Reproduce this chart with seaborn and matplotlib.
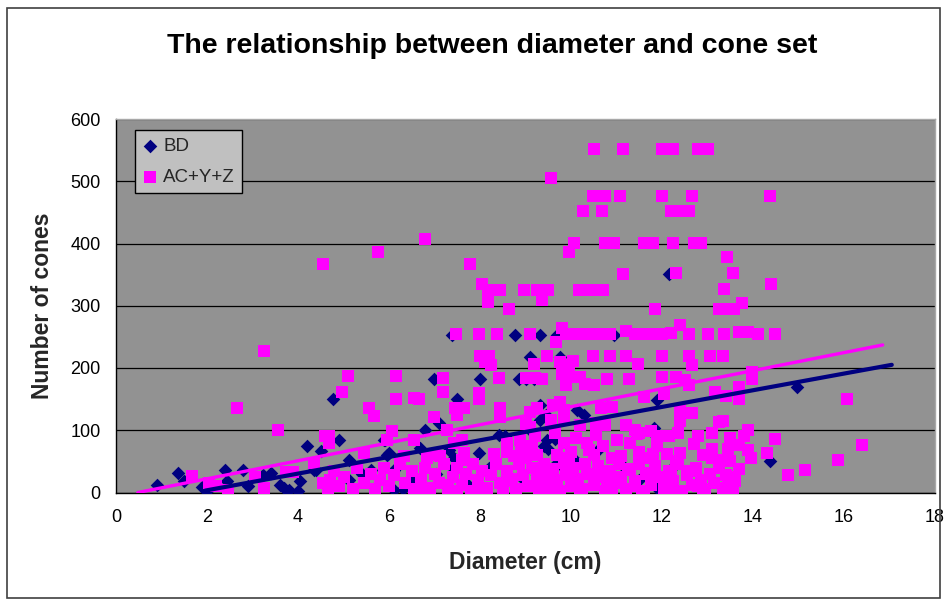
import matplotlib
matplotlib.use("Agg")
import matplotlib.pyplot as plt
import seaborn as sns
import pandas as pd
import numpy as np
from matplotlib.patches import Rectangle

# ---------------- data ----------------
title = "The relationship between diameter and cone set"
x_label = "Diameter (cm)"
y_label = "Number of cones"
series_names = ["BD", "AC+Y+Z"]
x_ticks = [0, 2, 4, 6, 8, 10, 12, 14, 16, 18]
y_ticks = [0, 100, 200, 300, 400, 500, 600]

bd_x = [0.9, 1.37, 1.5, 1.88, 2.0, 2.4, 2.45, 2.8, 2.9, 3.22, 3.41, 3.6, 3.7, 3.81, 4.0,
        4.05, 4.19, 4.36, 4.5, 4.4, 4.78, 4.91, 5.11, 5.11, 5.4, 5.6, 5.92, 5.95, 6.1, 6.1,
        6.3, 6.69, 6.8, 6.98, 7.09, 7.04, 7.42, 7.49, 7.38, 7.4, 7.31, 7.97, 8.0, 8.41, 8.78,
        8.85, 9.0, 9.1, 9.18, 9.32, 9.69, 9.76, 10.94, 12.15, 11.89, 14.97, 9.32, 10.13, 10.28,
        9.32, 9.45, 8.55, 9.1, 9.65, 9.47, 9.4, 9.5, 10.6, 11.8, 11.82, 14.38, 11.9, 12.2,
        9.66, 9.69, 9.32, 9.25, 10.1, 12.48, 5.99, 5.9, 6.5, 7.7, 8.2, 8.9, 10.4, 11.1, 11.5]
bd_y = [12, 31, 18, 9, 3, 36, 18, 36, 10, 28, 31, 12, 7, 4, 2,
        18, 75, 36, 67, 36, 150, 84, 53, 20, 30, 36, 84, 60, 36, 4,
        6, 71, 100, 182, 111, 30, 55, 150, 253, 40, 68, 63, 182, 92, 253,
        183, 182, 218, 183, 253, 253, 218, 253, 351, 149, 169, 140, 132, 124,
        117, 125, 90, 100, 86, 84, 75, 70, 68, 95, 103, 51, 8, 37,
        42, 47, 25, 28, 50, 130, 63, 85, 20, 15, 40, 25, 30, 45, 20]

ac_x = [10.5, 11.15, 12.0, 12.25, 12.8, 13.0, 9.57,
        10.48, 10.75, 11.07, 11.99, 12.66, 14.38,
        10.27, 10.68, 12.2, 12.4, 12.6,
        10.07, 10.75, 10.95, 11.6, 11.8, 12.25, 12.7, 12.85,
        9.96, 13.43, 13.57, 11.15, 12.3, 13.37, 14.4,
        8.97, 9.25, 9.5, 10.17, 10.45, 10.7, 9.36,
        6.79, 5.76, 4.55, 7.79, 8.05, 8.18, 8.45, 8.18, 8.64,
        11.85, 13.25, 13.47, 13.58, 13.76,
        7.47, 7.98, 8.37, 9.09, 9.8, 9.9, 10.1, 10.3, 10.5, 10.7, 10.85, 11.2, 11.4, 11.6,
        11.8, 12.0, 12.2, 12.39, 12.59, 13.0, 13.37, 13.7, 13.9, 14.1, 14.48, 9.67,
        8.0, 8.2, 8.1, 8.25, 9.18, 9.47, 9.75, 9.95, 10.05, 10.48, 10.86, 11.2, 11.47, 11.99,
        12.59, 12.66, 13.06, 13.35,
        5.09, 6.16, 7.18, 8.41, 9.0, 9.2, 9.36, 9.8, 10.0, 10.2, 10.3, 9.9, 10.5, 10.8,
        11.27, 12.0, 12.3, 12.5, 12.6, 13.98, 13.98,
        4.96, 6.16, 6.56, 6.67, 7.18, 7.98, 7.98, 11.6, 12.04, 13.17, 13.69, 13.69, 13.4, 16.07,
        5.56, 5.67, 7.45, 7.65, 7.5, 8.45, 8.45, 6.98, 2.66, 3.26,
        9.1, 9.25, 9.6, 9.85, 9.75, 10.65, 10.9, 12.4, 12.65, 13.33, 12.4, 13.25,
        3.57, 4.6, 4.69, 4.69, 6.06, 5.95, 6.54, 7.27, 7.6, 7.42, 8.59, 8.88, 9.0, 9.1, 9.55,
        9.85, 10.2, 10.55, 10.75, 11.2, 11.4, 11.5, 11.75, 11.9, 12.15, 13.1, 13.49, 13.88,
        13.8, 13.7, 14.48, 16.4,
        5.44, 6.32, 7.64, 8.6, 8.75, 8.9, 6.83, 7.13, 4.36, 9.15, 9.25, 9.85, 10.0, 9.95,
        10.35, 10.5, 10.7, 10.9, 11.3, 11.5, 11.7, 11.9, 12.1, 12.3, 12.7, 12.9, 13.1, 13.3,
        13.45, 13.9, 13.95, 14.3, 13.5, 13.7, 15.87, 15.15, 14.76, 13.5,
        1.67, 2.05, 2.46, 3.06, 3.26, 3.74, 3.89, 4.55, 2.2,
        4.65, 4.7, 4.8, 4.9, 5.0, 5.2, 5.3, 5.45, 5.6, 5.7, 5.8, 5.9, 6.0, 6.1, 6.25, 6.35,
        6.5, 6.55,
        6.7, 6.8, 6.9, 7.0, 7.1, 7.2, 7.3, 7.4, 7.5, 7.6, 7.7, 7.8, 7.85, 7.95, 8.05, 8.15,
        8.25, 8.35, 8.45, 8.5, 8.6, 8.7, 8.8, 8.85, 8.95,
        9.05, 9.15, 9.25, 9.3, 9.4, 9.45, 9.55, 9.6, 9.7, 9.75, 9.85, 9.9, 10.0, 10.05,
        10.15, 10.25, 10.3, 10.4, 10.5, 10.6, 10.65, 10.75, 10.85, 10.95,
        11.05, 11.1, 11.2, 11.3, 11.4, 11.5, 11.55, 11.65, 11.75, 11.85, 11.95, 12.05, 12.15,
        12.25, 12.35, 12.45, 12.55, 12.65, 12.75, 12.85, 12.95, 13.05, 13.15, 13.25, 13.35,
        13.45, 13.55, 13.6,
        7.0, 7.3, 7.6, 8.0, 8.3, 8.7, 9.0, 9.4, 9.7, 10.1, 10.4, 10.8, 11.1, 11.4, 11.8,
        12.1, 12.4, 12.8, 13.1, 13.4, 6.8, 7.5, 8.1, 8.8, 9.5, 10.2, 10.9, 11.6, 12.3, 12.9,
        9.2, 9.65, 10.1, 10.55, 11.0, 11.45, 11.9, 12.35, 12.8, 9.4, 9.9, 10.35, 10.8, 11.25,
        11.7, 12.2, 12.6]
ac_y = [552, 552, 552, 552, 552, 552, 506,
        476, 476, 476, 476, 476, 476,
        453, 453, 453, 453, 453,
        401, 401, 401, 401, 401, 401, 401, 401,
        387, 378, 352, 351, 352, 327, 335,
        326, 326, 326, 326, 326, 326, 309,
        407, 387, 367, 367, 335, 326, 326, 306, 295,
        294, 294, 294, 294, 305,
        254, 254, 254, 254, 265, 254, 254, 254, 254, 254, 254, 260, 254, 254,
        254, 254, 256, 269, 254, 254, 254, 258, 258, 254, 254, 242,
        220, 220, 210, 205, 207, 219, 210, 205, 212, 219, 219, 219, 207, 219,
        219, 205, 219, 219,
        187, 187, 184, 184, 184, 184, 183, 190, 185, 185, 175, 172, 172, 183,
        183, 185, 185, 180, 172, 194, 182,
        161, 150, 152, 150, 161, 160, 150, 154, 159, 162, 170, 150, 155, 150,
        135, 123, 135, 135, 125, 135, 122, 122, 135, 228,
        130, 135, 140, 132, 145, 135, 138, 133, 128, 115, 115, 114,
        100, 90, 90, 80, 98, 84, 85, 100, 85, 79, 79, 84, 110, 105, 116,
        116, 108, 112, 108, 108, 100, 95, 98, 90, 90, 95, 87, 100,
        90, 76, 86, 77,
        63, 58, 63, 65, 58, 70, 55, 58, 47, 75, 60, 80, 65, 55,
        80, 60, 75, 55, 80, 65, 55, 75, 62, 50, 78, 60, 70, 52,
        70, 68, 55, 63, 50, 37, 53, 36, 28, 12,
        27, 16, 4, 25, 7, 33, 33, 15, 10,
        5, 20, 35, 10, 25, 5, 40, 15, 30, 5, 20, 40, 10, 28, 45, 15,
        35, 5,
        22, 40, 8, 30, 15, 45, 5, 25, 40, 12, 30, 3, 45, 20, 35, 8,
        28, 45, 15, 2, 35, 22, 5, 45, 28,
        10, 40, 20, 2, 45, 30, 10, 38, 20, 3, 48, 28, 10, 40,
        22, 5, 45, 30, 12, 42, 25, 3, 35, 15,
        45, 25, 5, 38, 18, 45, 2, 30, 12, 42, 25, 5, 35,
        18, 45, 3, 28, 12, 40, 20, 5, 30, 15, 40, 8,
        25, 3, 18,
        60, 12, 52, 8, 62, 18, 55, 12, 60, 18, 68, 14, 58, 10, 62,
        18, 64, 10, 55, 28, 2, 2, 0, 2, 0, 2, 0, 2, 0, 2,
        90, 95, 88, 92, 85, 94, 88, 96, 90, 32, 35, 30, 33, 36,
        32, 30, 34]

# Excel linear trendlines: slope, intercept, x-extent
bd_trend = {"slope": 13.39, "intercept": -23.2, "x0": 1.96, "x1": 17.05}
ac_trend = {"slope": 14.48, "intercept": -6.95, "x0": 0.48, "x1": 16.85}

# ---------------- styling ----------------
navy = "#000080"
pink = "#FF00FF"

sns.set_theme(style="white")
plt.rcParams["font.family"] = ["Liberation Sans", "DejaVu Sans"]

fig = plt.figure(figsize=(9.47, 5.99), dpi=100)
ax = fig.add_axes([116 / 947, 106.5 / 599, 819 / 947, 373.5 / 599])
ax.set_facecolor("#929292")

bd_df = pd.DataFrame({"x": bd_x, "y": bd_y})
ac_df = pd.DataFrame({"x": ac_x, "y": ac_y})

sns.scatterplot(data=bd_df, x="x", y="y", ax=ax, marker="D", s=48, color=navy,
                linewidth=0, label=series_names[0], zorder=3)
sns.scatterplot(data=ac_df, x="x", y="y", ax=ax, marker="s", s=68, color=pink,
                linewidth=0, label=series_names[1], zorder=4)

for tr, col, lw in [(ac_trend, pink, 2.4), (bd_trend, navy, 3.0)]:
    tx = np.array([tr["x0"], tr["x1"]])
    ty = tr["slope"] * tx + tr["intercept"]
    sns.lineplot(x=tx, y=ty, ax=ax, color=col, linewidth=lw, legend=False, zorder=5)

ax.set_xlim(0, 18)
ax.set_ylim(0, 600)
ax.set_xticks(x_ticks)
ax.set_yticks(y_ticks)
ax.set_xticklabels([str(t) for t in x_ticks])
ax.set_yticklabels([str(t) for t in y_ticks])
ax.tick_params(axis="both", direction="out", length=5, width=1, color="black",
               labelsize=13, labelcolor="black")
ax.tick_params(axis="x", pad=7)
ax.tick_params(axis="y", pad=6)
ax.yaxis.grid(True, color="black", linewidth=0.9)
ax.xaxis.grid(False)
ax.set_axisbelow(True)

for side in ["left", "bottom"]:
    ax.spines[side].set_color("black")
    ax.spines[side].set_linewidth(1)
for side in ["top", "right"]:
    ax.spines[side].set_color("#A8A8A8")
    ax.spines[side].set_linewidth(1)

ax.set_xlabel(x_label, fontsize=16.5, fontweight="bold", va="center")
ax.set_ylabel(y_label, fontsize=16.5, fontweight="bold", va="center")
ax.xaxis.set_label_coords(0.5, (492.5 - 563) / 373.5)
ax.yaxis.set_label_coords((43 - 116) / 819, 0.5)

leg = ax.legend(loc="upper left", bbox_to_anchor=((135 - 116) / 819, (492.5 - 130) / 373.5),
                borderaxespad=0, frameon=True, fancybox=False, shadow=False,
                framealpha=1, facecolor="#C0C0C0", edgecolor="black",
                fontsize=13.5, handlelength=0.8, handletextpad=0.3,
                labelspacing=0.75, borderpad=0.4)
leg.get_frame().set_linewidth(1)

fig.text(492 / 947, 1 - 46 / 599, title, ha="center", va="center",
         fontsize=20.5, fontweight="bold", color="black")

fig.patches.append(Rectangle((7 / 947, 1 / 599), 933 / 947, 590 / 599,
                             transform=fig.transFigure, fill=False,
                             edgecolor="#404040", linewidth=1.2))

fig.savefig("out.png", dpi=100)
